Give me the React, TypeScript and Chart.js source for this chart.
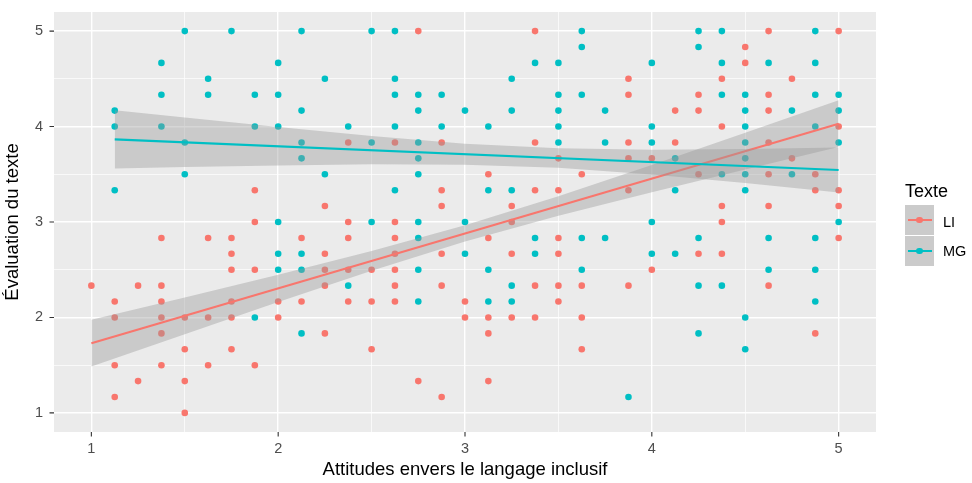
import React, { useEffect, useRef } from 'react';
import { Chart, registerables } from 'chart.js';

Chart.register(...registerables);

// ---- Data ----
const seriesNames = ['LI', 'MG'];
const liColor = '#F8766D';
const mgColor = '#00BFC4';

// LI observations [x, y]
const liPoints: [number, number][] = [
  [2.75, 5], [3.375, 5], [4.625, 5], [5, 5],
  [4.5, 4.833],
  [4.5, 4.667],
  [3.875, 4.5], [4.375, 4.5], [4.75, 4.5],
  [3.875, 4.333], [4.25, 4.333], [4.625, 4.333],
  [4.125, 4.167], [4.25, 4.167], [4.625, 4.167],
  [4.375, 4], [5, 4],
  [2.375, 3.833], [2.625, 3.833], [2.875, 3.833], [3.375, 3.833], [3.875, 3.833], [4.125, 3.833], [4.625, 3.833],
  [3.5, 3.667], [3.875, 3.667], [4, 3.667], [4.75, 3.667],
  [3.125, 3.5], [3.625, 3.5], [4.25, 3.5], [4.625, 3.5], [4.875, 3.5],
  [1.875, 3.333], [2.875, 3.333], [3.375, 3.333], [3.5, 3.333], [3.875, 3.333], [4.875, 3.333], [5, 3.333],
  [2.25, 3.167], [2.875, 3.167], [3.25, 3.167], [4.375, 3.167], [4.625, 3.167], [5, 3.167],
  [1.875, 3], [2.375, 3], [2.625, 3], [3.25, 3], [4.375, 3],
  [1.375, 2.833], [1.625, 2.833], [1.75, 2.833], [2.125, 2.833], [2.375, 2.833], [2.625, 2.833], [3.125, 2.833], [3.5, 2.833], [5, 2.833],
  [1.75, 2.667], [2.25, 2.667], [2.625, 2.667], [2.875, 2.667], [3.25, 2.667], [3.5, 2.667], [4.25, 2.667], [4.375, 2.667],
  [1.75, 2.5], [1.875, 2.5], [2.25, 2.5], [2.375, 2.5], [2.5, 2.5], [2.625, 2.5], [4, 2.5],
  [1, 2.333], [1.25, 2.333], [1.375, 2.333], [2.25, 2.333], [2.625, 2.333], [2.875, 2.333], [3.375, 2.333], [3.5, 2.333], [3.625, 2.333], [3.875, 2.333], [4.625, 2.333],
  [1.125, 2.167], [1.375, 2.167], [1.75, 2.167], [2, 2.167], [2.125, 2.167], [2.375, 2.167], [2.5, 2.167], [2.625, 2.167], [3, 2.167], [3.5, 2.167],
  [1.125, 2], [1.375, 2], [1.5, 2], [1.625, 2], [1.75, 2], [2, 2], [3, 2], [3.125, 2], [3.25, 2], [3.375, 2], [3.625, 2],
  [1.375, 1.833], [2.25, 1.833], [3.125, 1.833], [4.875, 1.833],
  [1.5, 1.667], [1.75, 1.667], [2.5, 1.667], [3.625, 1.667],
  [1.125, 1.5], [1.375, 1.5], [1.625, 1.5], [1.875, 1.5],
  [1.25, 1.333], [1.5, 1.333], [2.75, 1.333], [3.125, 1.333],
  [1.125, 1.167], [2.875, 1.167],
  [1.5, 1],
];

// MG observations [x, y]
const mgPoints: [number, number][] = [
  [1.5, 5], [1.75, 5], [2.125, 5], [2.5, 5], [2.625, 5], [3.625, 5], [4.25, 5], [4.375, 5], [4.875, 5],
  [3.625, 4.833], [4.25, 4.833],
  [1.375, 4.667], [2, 4.667], [3.375, 4.667], [3.5, 4.667], [4, 4.667], [4.375, 4.667], [4.625, 4.667], [4.875, 4.667],
  [1.625, 4.5], [2.25, 4.5], [2.625, 4.5], [3.25, 4.5],
  [1.375, 4.333], [1.625, 4.333], [1.875, 4.333], [2, 4.333], [2.625, 4.333], [2.75, 4.333], [2.875, 4.333], [3.5, 4.333], [3.625, 4.333], [4.375, 4.333], [4.5, 4.333], [4.875, 4.333], [5, 4.333],
  [1.125, 4.167], [2.125, 4.167], [2.75, 4.167], [3, 4.167], [3.25, 4.167], [3.5, 4.167], [3.75, 4.167], [4.5, 4.167], [4.75, 4.167], [5, 4.167],
  [1.125, 4], [1.375, 4], [1.875, 4], [2, 4], [2.375, 4], [2.625, 4], [2.875, 4], [3.125, 4], [3.5, 4], [4, 4], [4.5, 4], [4.875, 4],
  [1.5, 3.833], [2.125, 3.833], [2.5, 3.833], [2.75, 3.833], [3.5, 3.833], [3.75, 3.833], [4, 3.833], [4.5, 3.833], [5, 3.833],
  [2.125, 3.667], [2.75, 3.667], [4.125, 3.667], [4.5, 3.667],
  [1.5, 3.5], [2.25, 3.5], [2.75, 3.5], [4.375, 3.5], [4.5, 3.5], [4.75, 3.5],
  [1.125, 3.333], [2.625, 3.333], [3.125, 3.333], [3.25, 3.333], [4.125, 3.333], [4.5, 3.333],
  [2, 3], [2.5, 3], [2.75, 3], [3, 3], [4, 3], [5, 3],
  [2.75, 2.833], [3.375, 2.833], [3.625, 2.833], [3.75, 2.833], [4.25, 2.833], [4.625, 2.833], [4.875, 2.833],
  [2, 2.667], [2.125, 2.667], [3, 2.667], [3.375, 2.667], [4, 2.667], [4.125, 2.667],
  [2, 2.5], [2.125, 2.5], [2.75, 2.5], [3.125, 2.5], [3.625, 2.5], [4.625, 2.5], [4.875, 2.5],
  [2.375, 2.333], [3.25, 2.333], [4.25, 2.333], [4.375, 2.333],
  [2.75, 2.167], [3.125, 2.167], [3.25, 2.167], [4.875, 2.167],
  [1.875, 2], [4.5, 2],
  [2.125, 1.833], [4.25, 1.833],
  [4.5, 1.667],
  [3.875, 1.167],
];

// Fitted lines (endpoints) and confidence bands
const liFitX = [1, 5];
const liFitY = [1.73, 4.03];
const liBandX = [1, 1.5, 2, 2.5, 3, 3.5, 4, 4.5, 5];
const liLower = [1.485, 1.825, 2.162, 2.49, 2.795, 3.065, 3.312, 3.55, 3.785];
const liUpper = [1.975, 2.21, 2.448, 2.695, 2.965, 3.27, 3.598, 3.935, 4.275];

const mgFitX = [1.125, 5];
const mgFitY = [3.866, 3.545];
const mgBandX = [1.125, 1.5, 2, 2.5, 3, 3.5, 4, 4.5, 5];
const mgLower = [3.561, 3.576, 3.593, 3.604, 3.601, 3.568, 3.498, 3.408, 3.31];
const mgUpper = [4.171, 4.094, 3.995, 3.902, 3.821, 3.772, 3.758, 3.765, 3.78];

const gridValues = [1, 1.5, 2, 2.5, 3, 3.5, 4, 4.5, 5];
const majorTicks = [1, 2, 3, 4, 5];
const axisMin = 0.8;
const axisMax = 5.2;
const xTitle = 'Attitudes envers le langage inclusif';
const yTitle = 'Évaluation du texte';
const legendTitle = 'Texte';

const FONT = "'Liberation Sans', Arial, sans-serif";
const BAND = 'rgba(153,153,153,0.4)';
const TICK_LEN = 4.5;

const toXY = (xs: number[], ys: number[]) => xs.map((x, i) => ({ x, y: ys[i] }));

const panelBg = {
  id: 'panelBg',
  beforeDraw(chart: any) {
    const { ctx, chartArea } = chart;
    ctx.save();
    ctx.fillStyle = '#EBEBEB';
    ctx.fillRect(chartArea.left, chartArea.top, chartArea.right - chartArea.left, chartArea.bottom - chartArea.top);
    ctx.restore();
  },
};

const tickMarks = {
  id: 'tickMarks',
  afterDraw(chart: any) {
    const { ctx, chartArea, scales } = chart;
    ctx.save();
    ctx.strokeStyle = '#333333';
    ctx.lineWidth = 1.1;
    ctx.beginPath();
    majorTicks.forEach((v) => {
      const px = scales.x.getPixelForValue(v);
      ctx.moveTo(px, chartArea.bottom);
      ctx.lineTo(px, chartArea.bottom + TICK_LEN);
      const py = scales.y.getPixelForValue(v);
      ctx.moveTo(chartArea.left - TICK_LEN, py);
      ctx.lineTo(chartArea.left, py);
    });
    ctx.stroke();
    ctx.restore();
  },
};

const isMajor = (v: number) => Math.abs(v - Math.round(v)) < 1e-6;

function axisCommon(title: string, isX: boolean) {
  return {
    type: 'linear' as const,
    min: axisMin,
    max: axisMax,
    afterBuildTicks: (scale: any) => {
      scale.ticks = gridValues.map((v) => ({ value: v }));
    },
    afterFit: (scale: any) => {
      if (isX) scale.height = 51;
      else scale.width = 54;
      scale.paddingTop = 0;
      scale.paddingBottom = 0;
      scale.paddingLeft = 0;
      scale.paddingRight = 0;
    },
    border: { display: false },
    grid: {
      color: '#FFFFFF',
      lineWidth: (c: any) => (c.tick && isMajor(c.tick.value) ? 1.4 : 0.7),
      drawTicks: false,
    },
    ticks: {
      autoSkip: false,
      maxRotation: 0,
      padding: isX ? TICK_LEN + 4 : TICK_LEN + 6.5,
      color: '#4D4D4D',
      font: { family: FONT, size: 14.5 },
      callback: (v: any) => (isMajor(Number(v)) ? String(Math.round(Number(v))) : ''),
    },
    title: {
      display: true,
      text: title,
      color: '#000000',
      font: { family: FONT, size: 18.5 },
      padding: isX ? { top: 0, bottom: 1.6 } : { top: 2, bottom: 0 },
    },
  };
}

export default function App() {
  const ref = useRef<HTMLCanvasElement | null>(null);

  useEffect(() => {
    if (!ref.current) return;
    const chart = new Chart(ref.current, {
      type: 'scatter',
      data: {
        datasets: [
          {
            label: seriesNames[0],
            data: liPoints.map(([x, y]) => ({ x, y })),
            backgroundColor: liColor,
            borderWidth: 0,
            pointRadius: 3.3,
            order: 5,
          } as any,
          {
            label: seriesNames[1],
            data: mgPoints.map(([x, y]) => ({ x, y })),
            backgroundColor: mgColor,
            borderWidth: 0,
            pointRadius: 3.3,
            order: 4,
          },
          {
            type: 'line',
            label: 'liUpper',
            data: toXY(liBandX, liUpper),
            borderColor: 'rgba(0,0,0,0)',
            backgroundColor: BAND,
            pointRadius: 0,
            fill: 3,
            tension: 0,
            order: 3,
          },
          {
            type: 'line',
            label: 'liLower',
            data: toXY(liBandX, liLower),
            borderColor: 'rgba(0,0,0,0)',
            pointRadius: 0,
            fill: false,
            tension: 0,
            order: 3,
          },
          {
            type: 'line',
            label: 'liFit',
            data: toXY(liFitX, liFitY),
            borderColor: liColor,
            borderWidth: 2.2,
            pointRadius: 0,
            fill: false,
            order: 2,
          },
          {
            type: 'line',
            label: 'mgUpper',
            data: toXY(mgBandX, mgUpper),
            borderColor: 'rgba(0,0,0,0)',
            backgroundColor: BAND,
            pointRadius: 0,
            fill: 6,
            tension: 0,
            order: 1,
          },
          {
            type: 'line',
            label: 'mgLower',
            data: toXY(mgBandX, mgLower),
            borderColor: 'rgba(0,0,0,0)',
            pointRadius: 0,
            fill: false,
            tension: 0,
            order: 1,
          },
          {
            type: 'line',
            label: 'mgFit',
            data: toXY(mgFitX, mgFitY),
            borderColor: mgColor,
            borderWidth: 2.2,
            pointRadius: 0,
            fill: false,
            order: 0,
          },
        ] as any,
      },
      options: {
        animation: false,
        responsive: false,
        devicePixelRatio: 1,
        events: [],
        layout: { padding: { left: 0, right: 96, top: 12, bottom: 0 } },
        plugins: {
          legend: { display: false },
          tooltip: { enabled: false },
          filler: { propagate: false },
        },
        scales: {
          x: axisCommon(xTitle, true),
          y: axisCommon(yTitle, false),
        },
      } as any,
      plugins: [panelBg, tickMarks],
    });
    return () => chart.destroy();
  }, []);

  const keyBox = (top: number, color: string) => (
    <div style={{ position: 'absolute', left: 905, top, width: 29, height: 30, background: '#CBCBCB' }}>
      <div style={{ position: 'absolute', left: 2.5, top: 14, width: 24, height: 2.2, background: color }} />
      <div style={{ position: 'absolute', left: 11.2, top: 11.8, width: 6.6, height: 6.6, borderRadius: '50%', background: color }} />
    </div>
  );

  const label = (top: number, text: string) => (
    <div style={{ position: 'absolute', left: 943, top, fontFamily: FONT, fontSize: 14.5, lineHeight: 1, color: '#000', whiteSpace: 'nowrap' }}>
      {text}
    </div>
  );

  return (
    <div style={{ position: 'fixed', left: 0, top: 0, width: 972, height: 483, background: '#FFFFFF', overflow: 'hidden' }}>
      <canvas ref={ref} width={972} height={483} style={{ display: 'block', width: 972, height: 483 }} />
      <div style={{ position: 'absolute', left: 905, top: 181.5, fontFamily: FONT, fontSize: 18, lineHeight: 1, color: '#000', whiteSpace: 'nowrap' }}>
        {legendTitle}
      </div>
      {keyBox(205, liColor)}
      {keyBox(236, mgColor)}
      {label(215.4, seriesNames[0])}
      {label(244.4, seriesNames[1])}
    </div>
  );
}
